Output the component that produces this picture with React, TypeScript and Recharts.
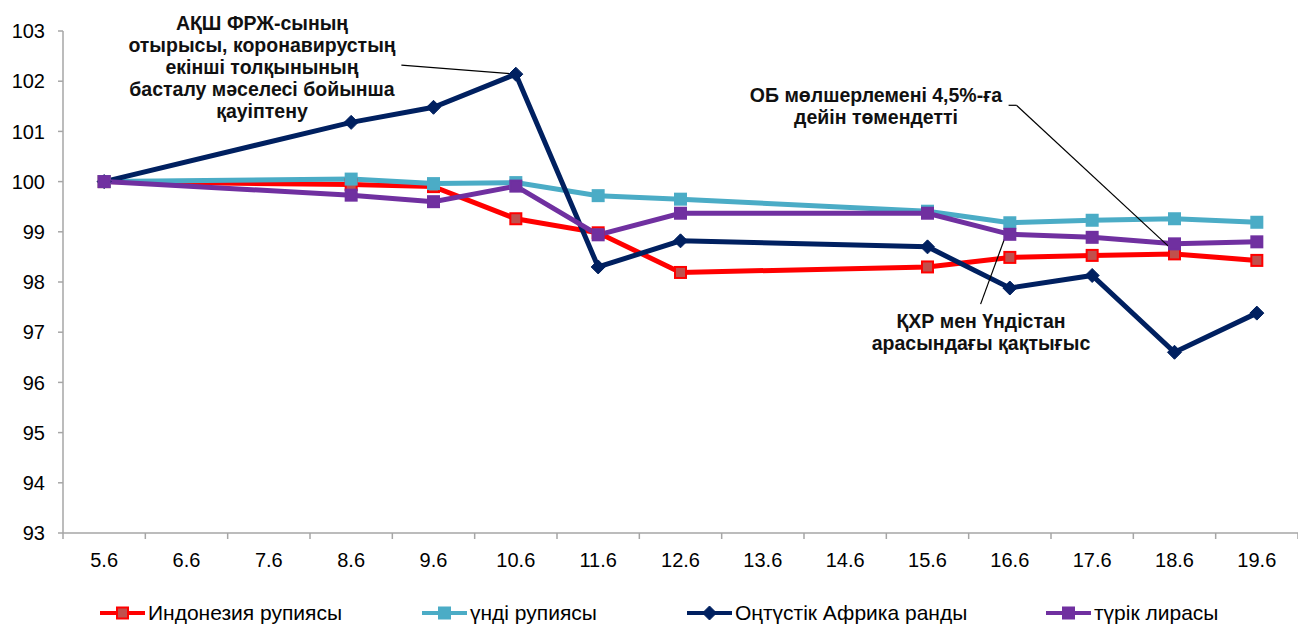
import React from "react";
import { Line, LineChart, ReferenceLine, XAxis, YAxis } from "recharts";

const categories = ["5.6", "6.6", "7.6", "8.6", "9.6", "10.6", "11.6", "12.6", "13.6", "14.6", "15.6", "16.6", "17.6", "18.6", "19.6"];
const idr = [100, null, null, 99.94, 99.9, 99.26, 98.98, 98.19, null, null, 98.3, 98.49, 98.53, 98.56, 98.43];
const inr = [100, null, null, 100.05, 99.96, 99.98, 99.72, 99.65, null, null, 99.41, 99.18, 99.23, 99.26, 99.19];
const zar = [100, null, null, 101.18, 101.48, 102.14, 98.3, 98.82, null, null, 98.7, 97.88, 98.13, 96.6, 97.38];
const tryl = [100, null, null, 99.73, 99.6, 99.91, 98.94, 99.37, null, null, 99.37, 98.95, 98.89, 98.76, 98.8];
const yTicks = [93, 94, 95, 96, 97, 98, 99, 100, 101, 102, 103];
const seriesNames = ["Индонезия рупиясы", "үнді рупиясы", "Оңтүстік Африка ранды", "түрік лирасы"];

const note1 = ["АҚШ ФРЖ-сының", "отырысы, коронавирустың", "екінші толқынының", "басталу мәселесі бойынша", "қауіптену"];
const note2 = ["ОБ мөлшерлемені 4,5%-ға", "дейін төмендетті"];
const note3 = ["ҚХР мен Үндістан", "арасындағы қақтығыс"];

const rows = categories.map((label, i) => ({
  i,
  label,
  idr: idr[i],
  inr: inr[i],
  zar: zar[i],
  tryl: tryl[i]
}));

// centre ticks carry labels, half-way ticks draw the little marks between categories
const xTicks = categories.flatMap((_, i) => [i - 0.5, i]).concat(categories.length - 0.5);

const FONT = '"Liberation Sans", Arial, sans-serif';
const AXIS = "#a6a6a6";

const COLORS = {
  idr: { line: "#ff0000", fill: "#c0504d", stroke: "#ff0000", shape: "square" },
  inr: { line: "#4bacc6", fill: "#4bacc6", stroke: "#4bacc6", shape: "square" },
  zar: { line: "#002060", fill: "#002060", stroke: "#002060", shape: "diamond" },
  tryl: { line: "#7030a0", fill: "#7030a0", stroke: "#7030a0", shape: "square" }
};

function Marker({ cx, cy, c }: { cx: number; cy: number; c: (typeof COLORS)["idr"] }) {
  if (c.shape === "diamond") {
    return (
      <path
        d={`M${cx},${cy - 7} L${cx + 7},${cy} L${cx},${cy + 7} L${cx - 7},${cy} Z`}
        fill={c.fill}
        stroke={c.stroke}
        strokeWidth={1}
      />
    );
  }
  return <rect x={cx - 5.5} y={cy - 5.5} width={11} height={11} fill={c.fill} stroke={c.stroke} strokeWidth={2} />;
}

const makeDot = (c: (typeof COLORS)["idr"]) => (props: any) => {
  const { cx, cy, index, value } = props;
  if (cx == null || cy == null || value == null) return <g key={`d-${index}`} />;
  return (
    <g key={`d-${index}`}>
      <Marker cx={cx} cy={cy} c={c} />
    </g>
  );
};

const XTick = (props: any) => {
  const { x, y, payload } = props;
  const v = payload.value;
  if (Number.isInteger(v)) {
    return (
      <text x={x} y={y + 34} textAnchor="middle" fontSize={20} fontFamily={FONT} fill="#000">
        {categories[v]}
      </text>
    );
  }
  return <line x1={x} x2={x} y1={y} y2={y + 6} stroke={AXIS} strokeWidth={1.5} />;
};

const legendX = [100, 422, 687, 1046];
const keys = ["idr", "inr", "zar", "tryl"] as const;

function Note({ lines, x, y }: { lines: string[]; x: number; y: number }) {
  return (
    <text x={x} y={y} textAnchor="middle" fontSize={19.5} fontWeight="bold" fontFamily={FONT} fill="#111">
      {lines.map((l, k) => (
        <tspan key={k} x={x} dy={k === 0 ? 0 : 22}>
          {l}
        </tspan>
      ))}
    </text>
  );
}

export default function App() {
  return (
    <div style={{ position: "absolute", left: 0, top: 0, width: 1298, height: 624, background: "#fff" }}>
      <LineChart width={1298} height={624} data={rows} margin={{ top: 31, right: 0, left: 0, bottom: 0 }}>
        <XAxis
          type="number"
          dataKey="i"
          domain={[-0.5, categories.length - 0.5]}
          ticks={xTicks}
          interval={0}
          tick={<XTick />}
          tickLine={false}
          tickSize={0}
          tickMargin={0}
          height={91}
          axisLine={{ stroke: AXIS, strokeWidth: 1.5 }}
          allowDataOverflow
        />
        <YAxis
          domain={[93, 103]}
          ticks={yTicks}
          interval={0}
          width={63}
          tickSize={5}
          tickMargin={13}
          axisLine={{ stroke: AXIS, strokeWidth: 1.5 }}
          tickLine={{ stroke: AXIS, strokeWidth: 1.5 }}
          tick={{ fontSize: 20, fontFamily: FONT, fill: "#000" }}
          allowDataOverflow
        />
        {keys.map((k, n) => (
          <Line
            key={k}
            dataKey={k}
            name={seriesNames[n]}
            type="linear"
            stroke={COLORS[k].line}
            strokeWidth={5}
            connectNulls
            dot={makeDot(COLORS[k])}
            activeDot={false}
            isAnimationActive={false}
          />
        ))}
        <ReferenceLine
          segment={[{ x: 3.61, y: 102.32 }, { x: 5, y: 102.14 }]}
          stroke="#000"
          strokeWidth={1.2}
          ifOverflow="visible"
        />
        <ReferenceLine
          segment={[{ x: 10.985, y: 101.52 }, { x: 11.08, y: 101.52 }]}
          stroke="#000"
          strokeWidth={1.2}
          ifOverflow="visible"
        />
        <ReferenceLine
          segment={[{ x: 11.08, y: 101.52 }, { x: 13, y: 98.6 }]}
          stroke="#000"
          strokeWidth={1.2}
          ifOverflow="visible"
        />
        <ReferenceLine
          segment={[{ x: 10.645, y: 97.56 }, { x: 11, y: 99.15 }]}
          stroke="#000"
          strokeWidth={1.2}
          ifOverflow="visible"
        />
      </LineChart>
      <svg width={1298} height={624} style={{ position: "absolute", left: 0, top: 0, pointerEvents: "none" }}>
        <Note lines={note1} x={262} y={29.5} />
        <Note lines={note2} x={876} y={101.5} />
        <Note lines={note3} x={981} y={327.5} />
        {keys.map((k, n) => (
          <g key={k}>
            <line x1={legendX[n]} x2={legendX[n] + 45} y1={613} y2={613} stroke={COLORS[k].line} strokeWidth={4} />
            <Marker cx={legendX[n] + 22.5} cy={613} c={COLORS[k]} />
            <text x={legendX[n] + 48} y={620} fontSize={21} fontFamily={FONT} fill="#000">
              {seriesNames[n]}
            </text>
          </g>
        ))}
      </svg>
    </div>
  );
}
